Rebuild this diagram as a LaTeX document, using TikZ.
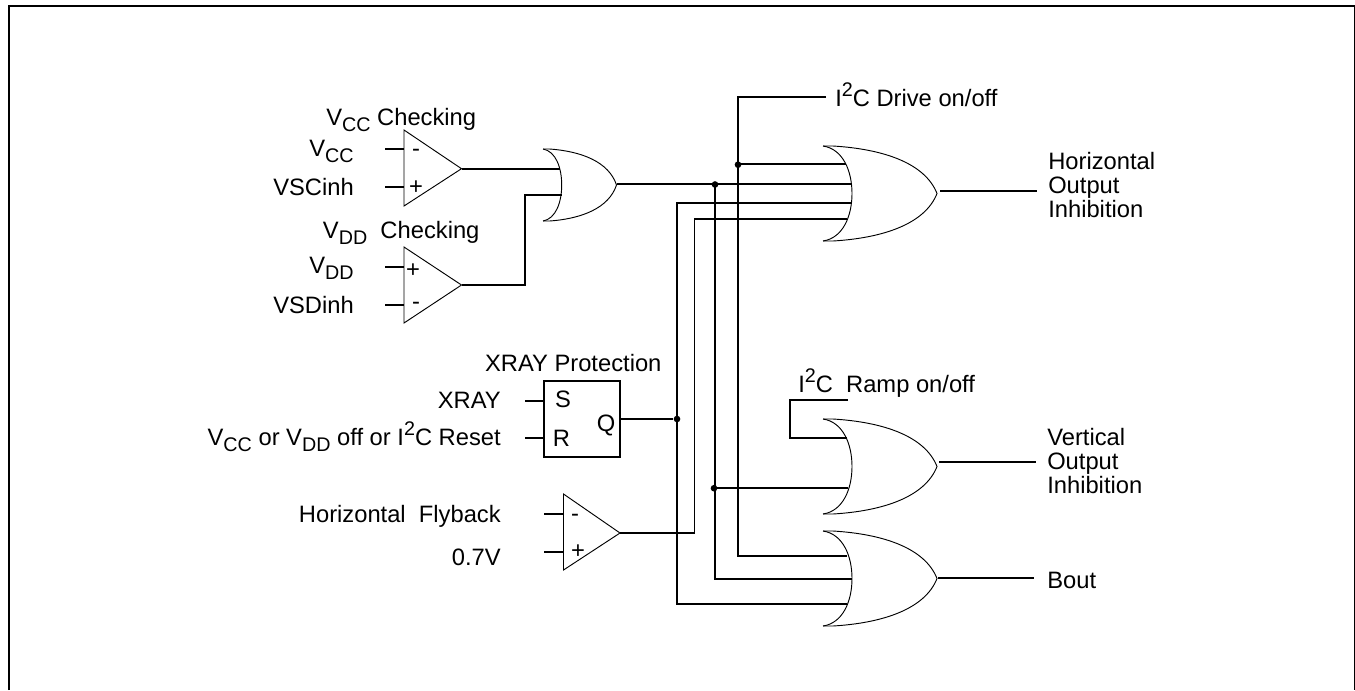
\documentclass[tikz,border=0pt]{standalone}
\usepackage{fontspec}
\setmainfont{Liberation Sans}
\newcommand\lowtxt[1]{\raisebox{-4.5pt}{\fontsize{14.8pt}{14.8pt}\selectfont #1}}
\newcommand\hightxt[1]{\raisebox{7.5pt}{\fontsize{14.8pt}{14.8pt}\selectfont #1}}
\tikzset{
  wire/.style={line width=1.2pt},
  outline/.style={line width=0.7pt},
  framing/.style={line width=1.6pt},
  dotjoin/.style={circle,fill=black,inner sep=0pt,minimum size=5pt},
  lbl/.style={inner sep=0pt,font=\fontsize{17.8pt}{18pt}\selectfont},
  lblr/.style={lbl,anchor=base east},
  lbll/.style={lbl,anchor=base west},
  sgn/.style={lbl,anchor=base},
  stack/.style={lbl,anchor=north west,align=left}
}
% OR gate: #1 x, #2 y of upper-left horn, #3 xscale, #4 yscale
\newcommand\orshape[4]{%
  \begin{scope}[shift={(#1,#2)},xscale=#3,yscale=#4]
    \draw[outline] (0,0) -- (10,0) .. controls (60,3) and (102,17) .. (114,47.5)
      .. controls (102,78) and (60,92) .. (10,95) -- (0,95);
    \draw[outline] (0,0) .. controls (20,3) and (29,25) .. (29,47.5)
      .. controls (29,70) and (20,92) .. (0,95);
  \end{scope}}
\begin{document}
\begin{tikzpicture}[x=0.75pt,y=-0.75pt]
\useasboundingbox (0,0) rectangle (1355,690);
% frame
\draw[framing] (8.8,690) -- (8.8,6) -- (1355,6) -- (1355,690);

% comparators
\draw[outline] (404,130) -- (461.5,168.7) -- (404,206) -- cycle;
\draw[outline] (404,247) -- (461.5,285) -- (404,323) -- cycle;
\draw[outline] (563.5,494) -- (620,533) -- (563.5,570) -- cycle;
\coordinate (c1out) at (461.5,168.7);
\coordinate (c2out) at (461.5,285);
\coordinate (c3out) at (620,533);
\coordinate (c1a) at (404,149); \coordinate (c1as) at (385,149);
\coordinate (c1b) at (404,187); \coordinate (c1bs) at (385,187);
\coordinate (c2a) at (404,267); \coordinate (c2as) at (385,267);
\coordinate (c2b) at (404,305); \coordinate (c2bs) at (385,305);
\coordinate (c3a) at (563.5,514); \coordinate (c3as) at (544,514);
\coordinate (c3b) at (563.5,552); \coordinate (c3bs) at (544,552);
\draw[wire] (c1as) -- (c1a);
\draw[wire] (c1bs) -- (c1b);
\draw[wire] (c2as) -- (c2a);
\draw[wire] (c2bs) -- (c2b);
\draw[wire] (c3as) -- (c3a);
\draw[wire] (c3bs) -- (c3b);
\node[sgn] (c1m) at (416,156) {-};
\node[sgn] (c1p) at (416,194) {+};
\node[sgn] (c2p) at (413,277) {+};
\node[sgn] (c2m) at (416,309) {-};
\node[sgn] (c3m) at (575,521) {-};
\node[sgn] (c3p) at (578,558) {+};

% SR latch
\node[draw,line width=1.2pt,minimum width=57pt,minimum height=57pt,inner sep=0pt] (sr) at (582,419) {};
\coordinate (srs) at (544,401); \coordinate (srss) at (525,401);
\coordinate (srr) at (544,438); \coordinate (srrs) at (525,438);
\coordinate (srq) at (620.5,419);
\draw[wire] (srss) -- (srs);
\draw[wire] (srrs) -- (srr);
\node[lbl,anchor=base] (ls) at (563,407.7) {S};
\node[lbl,anchor=base] (lr) at (561.5,446) {R};
\node[lbl,anchor=base] (lq) at (606,431) {Q};

% gates
\orshape{543}{149}{0.645}{0.758}
\orshape{823}{146}{1}{1}
\orshape{823}{419}{1}{1}
\orshape{823}{531}{1}{1}

% gate pins
\coordinate (g1a) at (560,168.7);
\coordinate (g1b) at (562,195);
\coordinate (g1out) at (616.5,184);
\coordinate (g2a) at (846,164);
\coordinate (g2b) at (852,184);
\coordinate (g2c) at (851,203);
\coordinate (g2d) at (847,219);
\coordinate (g2o) at (940,190.7);
\coordinate (g2e) at (1037,190.7);
\coordinate (g3a) at (847,438);
\coordinate (g3b) at (848,488.2);
\coordinate (g3o) at (939,461.7);
\coordinate (g3e) at (1036,461.7);
\coordinate (g4a) at (847,556);
\coordinate (g4b) at (852,579);
\coordinate (g4c) at (847,604);
\coordinate (g4o) at (938,578);
\coordinate (g4e) at (1034,578);
\coordinate (drv) at (826,97);
\coordinate (rmp) at (848,400);

% junctions
\node[dotjoin] (jd) at (738,164.7) {};
\node[dotjoin] (jv) at (715,184.5) {};
\node[dotjoin] (jv2) at (714,488.2) {};
\node[dotjoin] (jq) at (677,419) {};

% wires
\draw[wire] (c1out) -- (g1a);
\draw[wire] (c2out) -- (525,285) |- (g1b);
\draw[wire] (g1out) -- (g2b);
\draw[wire] (drv) -- (738,97) |- (g4a);
\draw[wire] (jd |- g2a) -- (g2a);
\draw[wire] (715,184) |- (g4b);
\draw[wire] (jv2.center) -- (g3b);
\draw[wire] (g4c) -- (677,604) |- (g2c);
\draw[wire] (c3out) -- (694.5,533) |- (g2d);
\draw[wire] (srq) -- (jq);
\draw[wire] (rmp) -- (790,400) |- (g3a);
\draw[wire] (g2o) -- (g2e);
\draw[wire] (g3o) -- (g3e);
\draw[wire] (g4o) -- (g4e);

% labels
\node[lbll] (t1) at (326,125) {V\lowtxt{CC} Checking};
\node[lblr] (t2) at (354,156) {V\lowtxt{CC}};
\node[lblr] (t3) at (354,195) {VSCinh};
\node[lbll] (t4) at (322.7,238) {V\lowtxt{DD}\ \ Checking};
\node[lblr] (t5) at (354,273) {V\lowtxt{DD}};
\node[lblr] (t6) at (354,313) {VSDinh};
\node[lblr] (t7) at (661.7,371.7) {XRAY Protection};
\node[lblr] (t8) at (501,408) {XRAY};
\node[lblr] (t9) at (501,445) {V\lowtxt{CC} or V\lowtxt{DD} off or I\hightxt{2}C Reset};
\node[lblr] (t10) at (501,522) {Horizontal\ \ Flyback};
\node[lblr] (t11) at (501,565) {0.7V};
\node[lbll] (t12) at (835,106) {I\hightxt{2}C Drive on/off};
\node[lbll] (t13) at (798,392) {I\hightxt{2}C\ \ Ramp on/off};
\node[stack] (t14) at (1048,152) {Horizontal\\Output\\Inhibition};
\node[stack] (t15) at (1047,428.5) {Vertical\\Output\\Inhibition};
\node[lbll] (t16) at (1047,588) {Bout};
\end{tikzpicture}
\end{document}
